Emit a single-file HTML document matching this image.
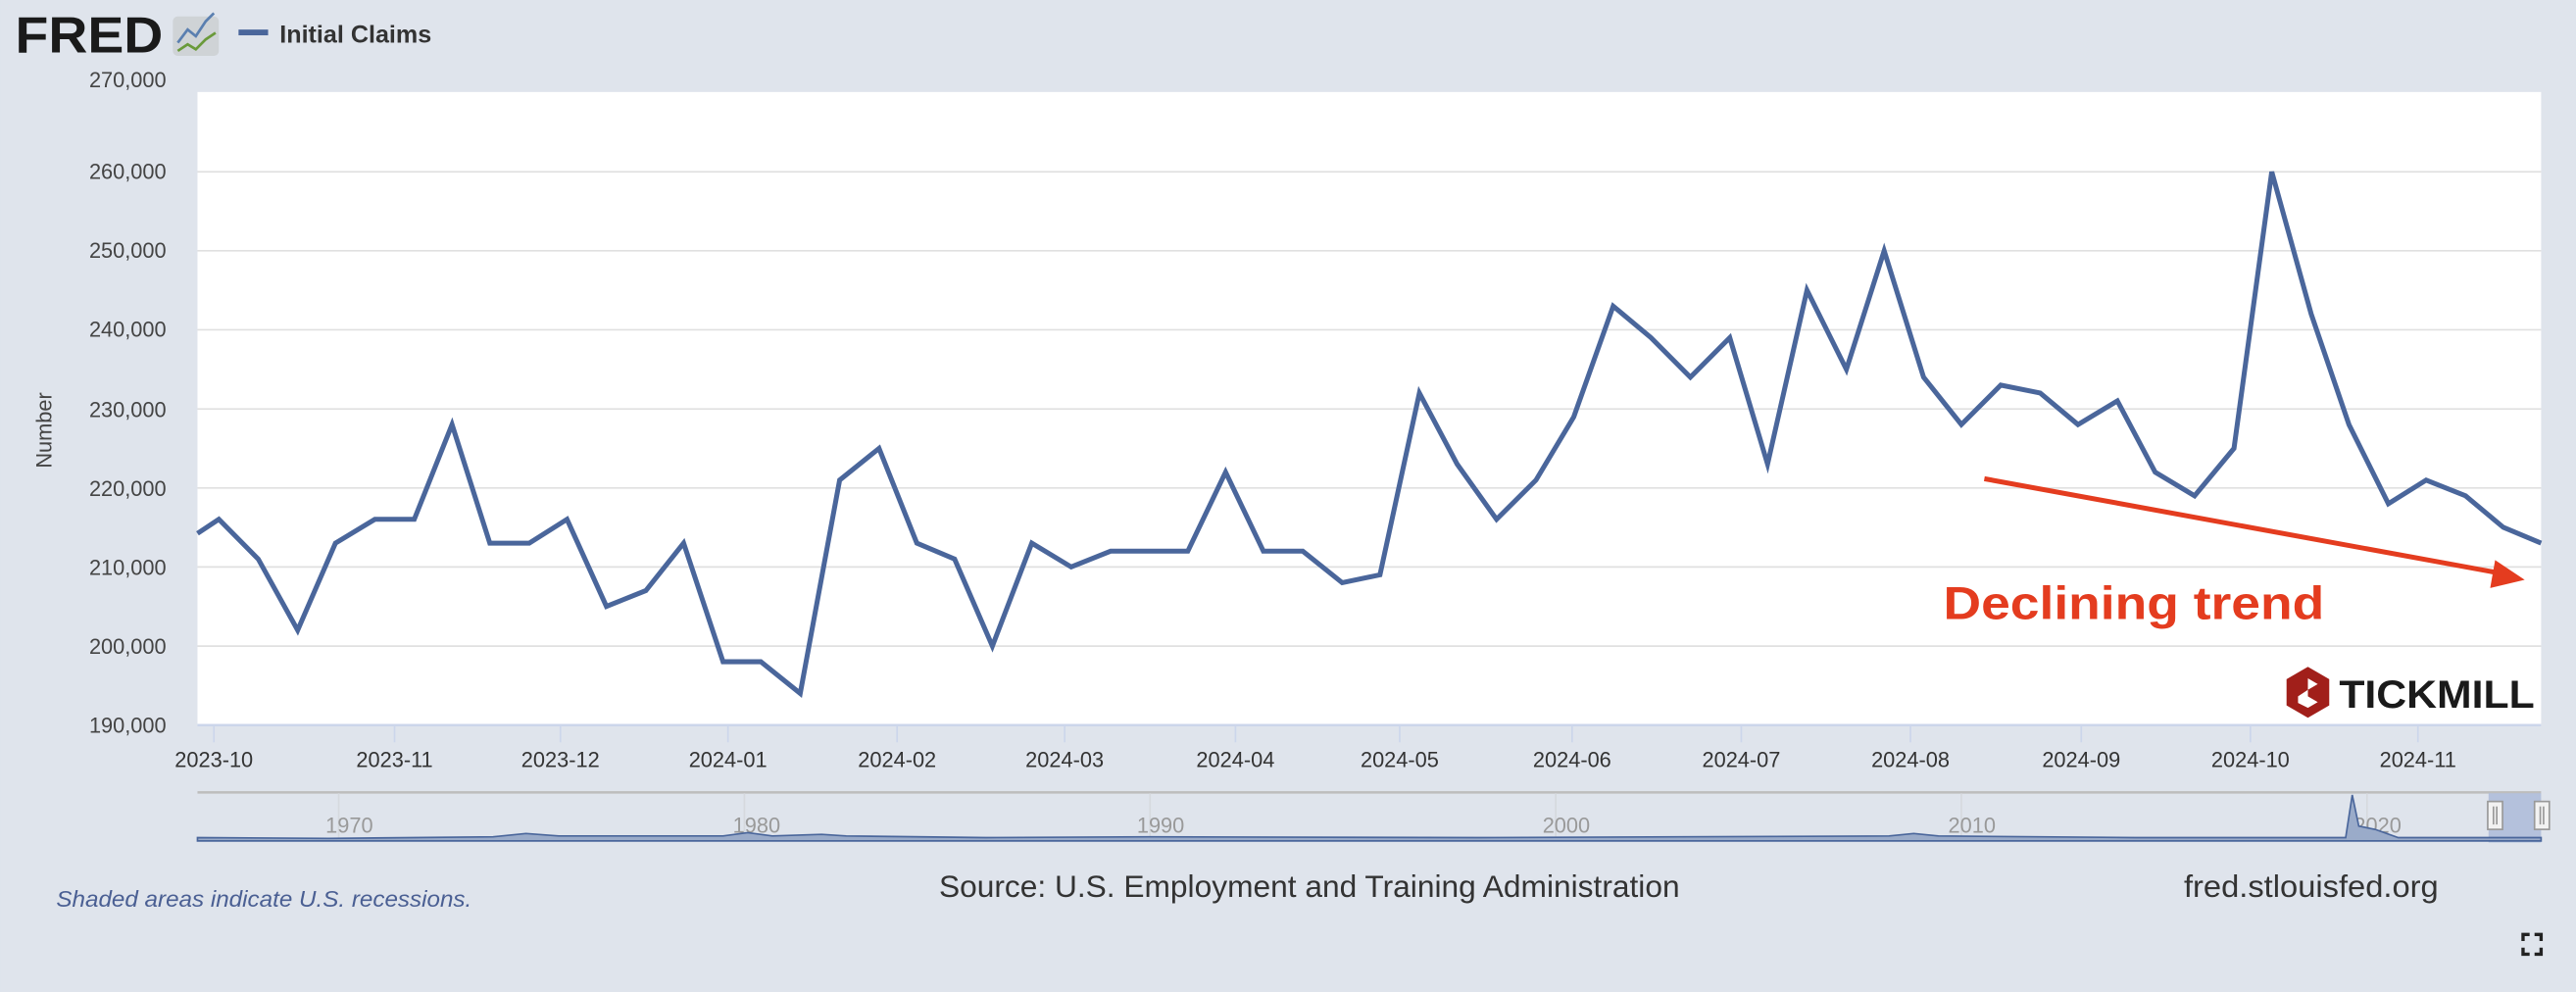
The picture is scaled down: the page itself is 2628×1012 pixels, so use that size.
<!DOCTYPE html>
<html><head><meta charset="utf-8"><style>
html,body{margin:0;padding:0;background:#dfe4ec;}
svg{display:block}
text{font-family:"Liberation Sans",sans-serif}
</style></head><body>
<svg width="2628" height="1012" viewBox="0 0 1568 604" xmlns="http://www.w3.org/2000/svg">
<rect width="1568" height="604" fill="#dfe4ec"/>
<!-- header -->
<text x="9" y="32" font-size="31" font-weight="bold" fill="#1a1a1a" textLength="90" lengthAdjust="spacingAndGlyphs">FRED</text>
<rect x="105" y="10" width="28" height="24" rx="3" fill="#cfd3d6"/>
<polyline points="108,26 114,18 119,22 125,13 130,8" fill="none" stroke="#5a7fb0" stroke-width="1.6"/>
<polyline points="108,31 114,27 119,30 125,24 131,20" fill="none" stroke="#6a9a3a" stroke-width="1.6"/>
<rect x="145" y="18" width="18" height="3.5" fill="#4a669b"/>
<text x="170" y="26" font-size="15" font-weight="bold" fill="#333">Initial Claims</text>
<!-- plot area -->
<rect x="120" y="56" width="1427" height="385.5" fill="#fff"/>
<g stroke="#e0e0e0" stroke-width="1">
<line x1="120" y1="104.6" x2="1547" y2="104.6"/><line x1="120" y1="152.7" x2="1547" y2="152.7"/>
<line x1="120" y1="200.8" x2="1547" y2="200.8"/><line x1="120" y1="249" x2="1547" y2="249"/>
<line x1="120" y1="297.1" x2="1547" y2="297.1"/><line x1="120" y1="345.2" x2="1547" y2="345.2"/>
<line x1="120" y1="393.4" x2="1547" y2="393.4"/>
</g>
<line x1="120" y1="441.5" x2="1547" y2="441.5" stroke="#ccd6eb" stroke-width="1.5"/>
<g font-size="13" fill="#444" text-anchor="end">
<text x="101" y="53">270,000</text><text x="101" y="109">260,000</text><text x="101" y="157">250,000</text>
<text x="101" y="205">240,000</text><text x="101" y="254">230,000</text><text x="101" y="302">220,000</text>
<text x="101" y="350">210,000</text><text x="101" y="398">200,000</text><text x="101" y="446">190,000</text>
</g>
<text transform="translate(31,262) rotate(-90)" font-size="13" fill="#444" text-anchor="middle">Number</text>
<g stroke="#ccd6eb" stroke-width="1">
<line x1="130" y1="442" x2="130" y2="452"/><line x1="240" y1="442" x2="240" y2="452"/><line x1="341" y1="442" x2="341" y2="452"/>
<line x1="443" y1="442" x2="443" y2="452"/><line x1="546" y1="442" x2="546" y2="452"/><line x1="648" y1="442" x2="648" y2="452"/>
<line x1="752" y1="442" x2="752" y2="452"/><line x1="852" y1="442" x2="852" y2="452"/><line x1="957" y1="442" x2="957" y2="452"/>
<line x1="1060" y1="442" x2="1060" y2="452"/><line x1="1163" y1="442" x2="1163" y2="452"/><line x1="1267" y1="442" x2="1267" y2="452"/>
<line x1="1370" y1="442" x2="1370" y2="452"/><line x1="1472" y1="442" x2="1472" y2="452"/>
</g>
<g font-size="13" fill="#333" text-anchor="middle">
<text x="130" y="467">2023-10</text><text x="240" y="467">2023-11</text><text x="341" y="467">2023-12</text>
<text x="443" y="467">2024-01</text><text x="546" y="467">2024-02</text><text x="648" y="467">2024-03</text>
<text x="752" y="467">2024-04</text><text x="852" y="467">2024-05</text><text x="957" y="467">2024-06</text>
<text x="1060" y="467">2024-07</text><text x="1163" y="467">2024-08</text><text x="1267" y="467">2024-09</text>
<text x="1370" y="467">2024-10</text><text x="1472" y="467">2024-11</text>
</g>
<!-- series -->
<polyline fill="none" stroke="#4a669b" stroke-width="3" stroke-linejoin="miter" points="120,324.8 133,316.2 157,340.4 181,383.7 204,330.7 228,316.2 252,316.2 275,258.5 298,330.7 322,330.7 345,316.2 369,369.2 393,359.6 416,330.7 440,402.9 463,402.9 487,422.2 511,292.3 535,273.0 558,330.7 581,340.4 604,393.4 628,330.7 652,345.2 676,335.6 699,335.6 723,335.6 746,287.5 769,335.6 793,335.6 817,354.8 840,350.0 864,239.3 887,282.6 911,316.2 935,292.3 958,253.8 982,186.4 1005,205.6 1029,229.7 1053,205.6 1076,282.6 1100,176.7 1124,224.9 1147,152.7 1171,229.7 1194,258.5 1218,234.5 1242,239.3 1265,258.5 1289,244.1 1312,287.5 1336,301.9 1360,273.0 1383,104.6 1407,191.2 1430,258.5 1454,306.7 1477,292.3 1501,301.9 1524,321.1 1547,330.7"/>
<!-- annotation -->
<line x1="1208" y1="291.5" x2="1522" y2="349" stroke="#e43c1f" stroke-width="3"/>
<polygon points="1537,353 1519,341 1516,358" fill="#e43c1f"/>
<text x="1183" y="377" font-size="28" font-weight="bold" fill="#e43c1f" textLength="232" lengthAdjust="spacingAndGlyphs">Declining trend</text>
<!-- tickmill -->
<polygon points="1405,406 1418,413.5 1418,429.5 1405,437 1392,429.5 1392,413.5" fill="#a11f1a"/>
<polygon points="1405,413 1411,416.5 1405,420 1399,424 1399,428 1405,431 1411,427.5 1405,424" fill="#fff"/>
<text x="1424" y="431" font-size="24" font-weight="bold" fill="#1a1a1a" textLength="119" lengthAdjust="spacingAndGlyphs">TICKMILL</text>
<!-- navigator -->
<line x1="120" y1="482.5" x2="1547" y2="482.5" stroke="#bdbdbd" stroke-width="1.5"/>
<g stroke="#d6d9de" stroke-width="1">
<line x1="206" y1="483" x2="206" y2="512"/><line x1="453" y1="483" x2="453" y2="512"/><line x1="700" y1="483" x2="700" y2="512"/>
<line x1="947" y1="483" x2="947" y2="512"/><line x1="1194" y1="483" x2="1194" y2="512"/><line x1="1441" y1="483" x2="1441" y2="512"/>
</g>
<g font-size="13" fill="#999">
<text x="198" y="507">1970</text><text x="446" y="507">1980</text><text x="692" y="507">1990</text>
<text x="939" y="507">2000</text><text x="1186" y="507">2010</text><text x="1433" y="507">2020</text>
</g>
<rect x="1515" y="483" width="32" height="30" fill="#b4c1dc"/>
<path d="M120,512 L120,510 L200,510.5 L300,509.5 L320,507.5 L340,509 L440,509 L455,507 L470,509 L500,508 L515,509 L600,510 L700,509.5 L900,510 L1150,509 L1165,507.5 L1180,509 L1300,510 L1428,510 L1432,484 L1436,503 L1446,505 L1460,510 L1547,510 L1547,512 Z" fill="#9aabc9" stroke="#4a669b" stroke-width="1"/>
<rect x="1514.5" y="488" width="9" height="17" fill="#f2f2f2" stroke="#999"/>
<line x1="1518" y1="491" x2="1518" y2="502" stroke="#999"/><line x1="1520" y1="491" x2="1520" y2="502" stroke="#999"/>
<rect x="1543" y="488" width="9" height="17" fill="#f2f2f2" stroke="#999"/>
<line x1="1546.5" y1="491" x2="1546.5" y2="502" stroke="#999"/><line x1="1548.5" y1="491" x2="1548.5" y2="502" stroke="#999"/>
<!-- footer -->
<text x="34" y="552" font-size="14" font-style="italic" fill="#4a5f93" textLength="253" lengthAdjust="spacingAndGlyphs">Shaded areas indicate U.S. recessions.</text>
<text x="797" y="546" font-size="19" fill="#333" text-anchor="middle" textLength="451" lengthAdjust="spacingAndGlyphs">Source: U.S. Employment and Training Administration</text>
<text x="1407" y="546" font-size="19" fill="#333" text-anchor="middle" textLength="155" lengthAdjust="spacingAndGlyphs">fred.stlouisfed.org</text>
<path d="M1536,573 v-4 h4 M1543,569 h4 v4 M1547,577 v4 h-4 M1540,581 h-4 v-4" fill="none" stroke="#222" stroke-width="2"/>
</svg>
</body></html>
